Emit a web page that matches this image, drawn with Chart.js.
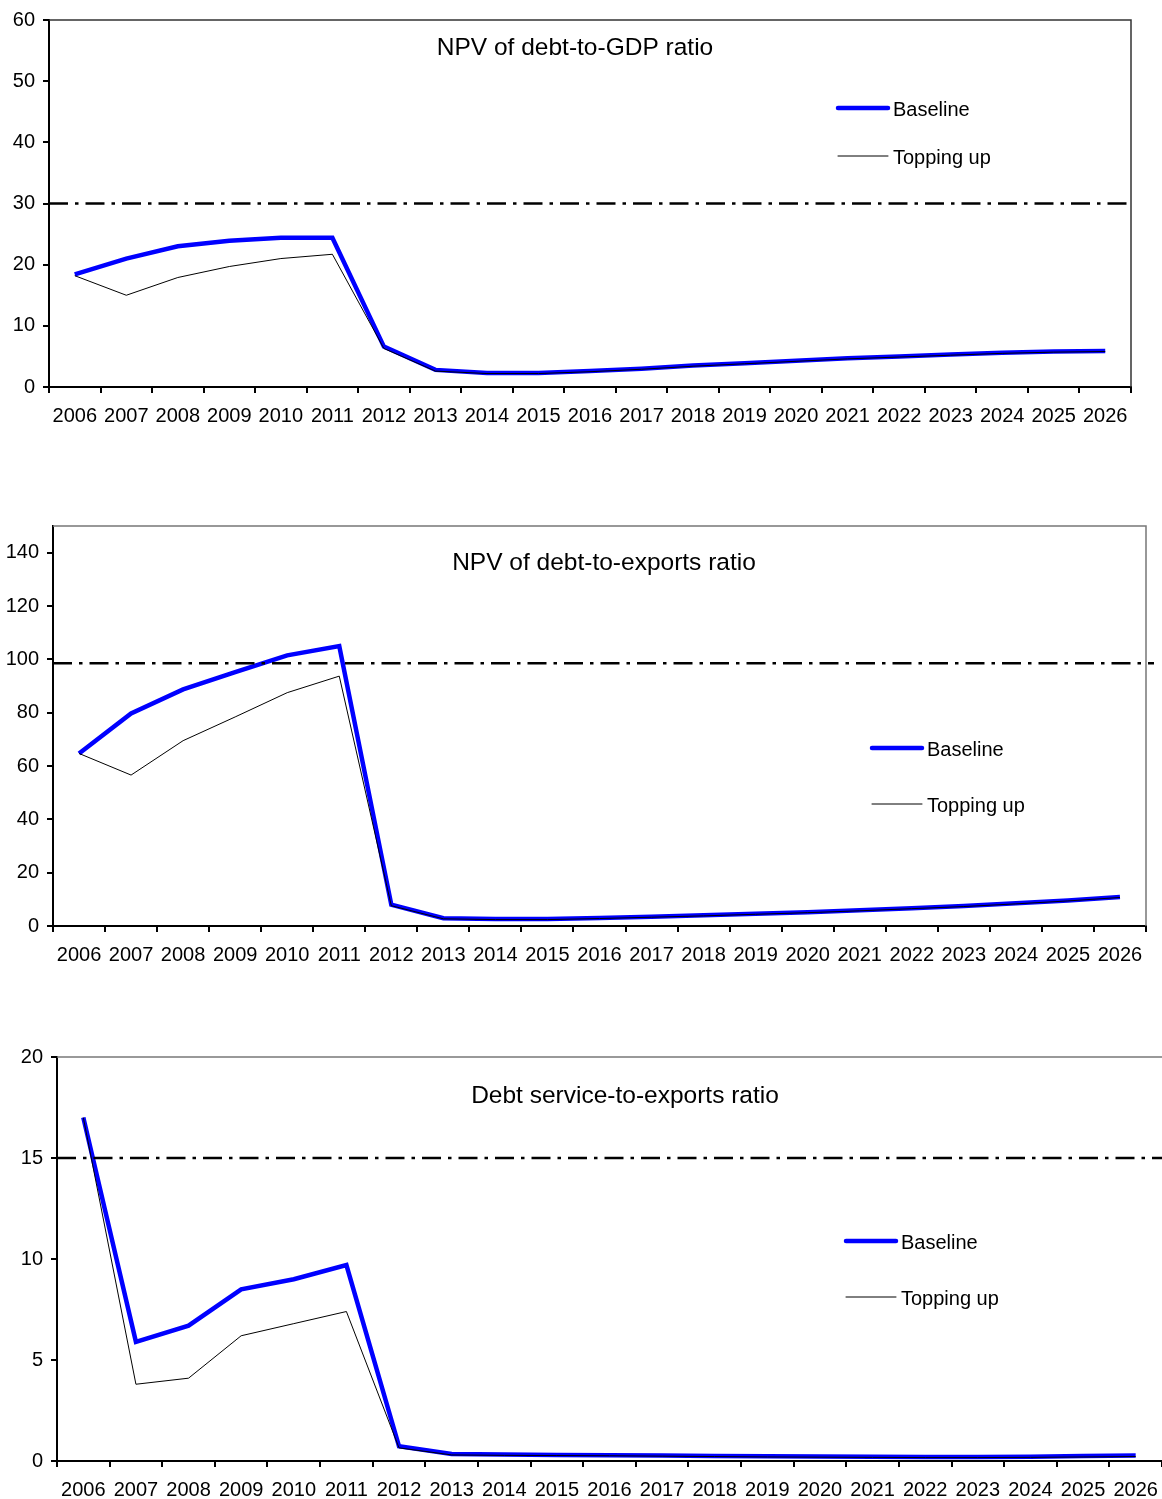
<!DOCTYPE html>
<html>
<head>
<meta charset="utf-8">
<script src="https://cdn.jsdelivr.net/npm/chart.js@4.4.1/dist/chart.umd.min.js"></script>
<style>
  html, body { margin: 0; padding: 0; background: #fff; }
  body { width: 1162px; height: 1499px; position: relative; overflow: hidden; }
  canvas { position: absolute; left: 0; }
</style>
</head>
<body>
<canvas id="gdpChart" width="1162" height="440" style="top:0px"></canvas>
<canvas id="exportsChart" width="1162" height="480" style="top:500px"></canvas>
<canvas id="serviceChart" width="1162" height="479" style="top:1020px"></canvas>
<script>
// years on the x axis
const years = ['2006', '2007', '2008', '2009', '2010', '2011', '2012', '2013', '2014', '2015', '2016',
    '2017', '2018', '2019', '2020', '2021', '2022', '2023', '2024', '2025', '2026'];

// NPV of debt-to-GDP ratio
const gdpBaseline = [18.4, 21.0, 23.0, 23.9, 24.4, 24.4, 6.6, 2.8, 2.3, 2.3, 2.6, 3.0, 3.5, 3.9, 4.3, 4.7, 5.0, 5.3, 5.6, 5.8, 5.9];
const gdpTopping = [18.2, 15.0, 17.9, 19.7, 21.0, 21.7, 6.3, 2.6, 2.2, 2.2, 2.5, 2.9, 3.4, 3.8, 4.2, 4.6, 4.9, 5.2, 5.5, 5.7, 5.8];
const gdpTicks = [0, 10, 20, 30, 40, 50, 60];
const gdpThreshold = 30;

// NPV of debt-to-exports ratio
const exportsBaseline = [64.7, 79.7, 88.7, 95.2, 101.5, 105.0, 8.0, 2.9, 2.6, 2.6, 3.0, 3.5, 4.0, 4.6, 5.2, 5.9, 6.7, 7.5, 8.5, 9.6, 10.9];
const exportsTopping = [64.7, 56.6, 69.5, 78.4, 87.5, 93.7, 7.6, 2.7, 2.4, 2.4, 2.8, 3.3, 3.8, 4.4, 5.0, 5.7, 6.5, 7.3, 8.3, 9.4, 10.7];
const exportsTicks = [0, 20, 40, 60, 80, 100, 120, 140];
const exportsThreshold = 98.5;

// Debt service-to-exports ratio
const serviceBaseline = [17.0, 5.9, 6.7, 8.5, 9.0, 9.7, 0.73, 0.35, 0.32, 0.30, 0.29, 0.27, 0.25, 0.23, 0.22, 0.21, 0.20, 0.20, 0.21, 0.25, 0.27];
const serviceTopping = [17.0, 3.8, 4.1, 6.2, 6.8, 7.4, 0.65, 0.30, 0.28, 0.27, 0.26, 0.24, 0.22, 0.20, 0.19, 0.18, 0.17, 0.17, 0.18, 0.20, 0.22];
const serviceTicks = [0, 5, 10, 15, 20];
const serviceThreshold = 15;

const FONT = '"Liberation Sans", Arial, sans-serif';

// title, legend, threshold line and box frame
const decoPlugin = {
    id: 'deco',
    afterDatasetsDraw(chart, args, opts) {
        const ctx = chart.ctx;
        const area = chart.chartArea;
        const y = chart.scales.y.getPixelForValue(opts.threshold);

        ctx.save();
        // frame on top and right
        ctx.strokeStyle = opts.frameColor;
        ctx.lineWidth = 1.5;
        ctx.beginPath();
        ctx.moveTo(area.left, area.top);
        ctx.lineTo(area.right, area.top);
        if (opts.rightBorder) ctx.lineTo(area.right, area.bottom);
        ctx.stroke();

        // threshold
        ctx.strokeStyle = '#000';
        ctx.lineWidth = 2.5;
        ctx.setLineDash([19, 7, 3.5, 7]);
        ctx.beginPath();
        ctx.moveTo(area.left, y);
        ctx.lineTo(area.right + (opts.thresholdExtend || 0), y);
        ctx.stroke();
        ctx.setLineDash([]);

        // title
        ctx.fillStyle = '#000';
        ctx.font = '24.5px ' + FONT;
        ctx.textAlign = 'center';
        ctx.textBaseline = 'middle';
        ctx.fillText(opts.title, opts.titleX, opts.titleY);

        // legend
        ctx.font = '20px ' + FONT;
        ctx.textAlign = 'left';
        const order = [1, 0];
        order.forEach((di, i) => {
            const ds = chart.data.datasets[di];
            const ly = i === 0 ? opts.legendY1 : opts.legendY2;
            ctx.strokeStyle = ds.borderColor;
            ctx.lineWidth = ds.borderWidth;
            ctx.lineCap = 'round';
            ctx.beginPath();
            ctx.moveTo(opts.legendX, ly);
            ctx.lineTo(opts.legendX + 50, ly);
            ctx.stroke();
            ctx.fillText(ds.label, opts.legendX + 55, ly + 2.5);
        });
        ctx.restore();
    }
};

function makeChart(id, baseline, topping, ticks, yMax, layout, deco) {
    const ctx = document.getElementById(id).getContext('2d');
    return new Chart(ctx, {
        type: 'line',
        data: {
            labels: years,
            datasets: [
                {
                    label: 'Topping up',
                    data: topping,
                    borderColor: '#000000',
                    borderWidth: 1,
                    pointRadius: 0,
                    tension: 0
                },
                {
                    label: 'Baseline',
                    data: baseline,
                    borderColor: '#0000ff',
                    borderWidth: 4.5,
                    pointRadius: 0,
                    tension: 0
                }
            ]
        },
        options: {
            responsive: false,
            animation: false,
            events: [],
            layout: {
                padding: { top: layout.top, right: layout.right, bottom: 0, left: 0 }
            },
            scales: {
                x: {
                    offset: true,
                    grid: {
                        offset: true,
                        drawOnChartArea: false,
                        tickLength: 6,
                        lineWidth: 2,
                        color: '#000'
                    },
                    border: { color: '#000', width: 2 },
                    ticks: {
                        color: '#000',
                        font: { family: FONT, size: 20 },
                        padding: 11,
                        maxRotation: 0,
                        autoSkip: false
                    },
                    afterFit(scale) {
                        scale.height = layout.xHeight;
                        scale.paddingLeft = 0;
                        scale.paddingRight = 0;
                    }
                },
                y: {
                    min: 0,
                    max: yMax,
                    grid: {
                        drawOnChartArea: false,
                        tickLength: 6,
                        lineWidth: 2,
                        color: '#000'
                    },
                    border: { color: '#000', width: 2 },
                    ticks: {
                        color: '#000',
                        font: { family: FONT, size: 20 },
                        padding: 8
                    },
                    afterBuildTicks(scale) { scale.ticks = ticks.map(v => ({ value: v })); },
                    afterFit(scale) { scale.width = layout.yWidth; }
                }
            },
            plugins: {
                legend: { display: false },
                tooltip: { enabled: false },
                deco: deco
            }
        },
        plugins: [decoPlugin]
    });
}

makeChart('gdpChart', gdpBaseline, gdpTopping, gdpTicks, 60,
    { top: 18, right: 31, yWidth: 49, xHeight: 53 },
    { title: 'NPV of debt-to-GDP ratio', titleX: 575, titleY: 48, legendX: 838, legendY1: 108, legendY2: 156,
      threshold: gdpThreshold, frameColor: '#333', rightBorder: true });

makeChart('exportsChart', exportsBaseline, exportsTopping, exportsTicks, 150,
    { top: 26, right: 16, yWidth: 53, xHeight: 54 },
    { title: 'NPV of debt-to-exports ratio', titleX: 604, titleY: 63, legendX: 872, legendY1: 248, legendY2: 304,
      threshold: exportsThreshold, frameColor: '#777', rightBorder: true, thresholdExtend: 8 });

makeChart('serviceChart', serviceBaseline, serviceTopping, serviceTicks, 20,
    { top: 37, right: 0, yWidth: 57, xHeight: 38 },
    { title: 'Debt service-to-exports ratio', titleX: 625, titleY: 76, legendX: 846, legendY1: 221, legendY2: 277,
      threshold: serviceThreshold, frameColor: '#777', rightBorder: false });
</script>
</body>
</html>
